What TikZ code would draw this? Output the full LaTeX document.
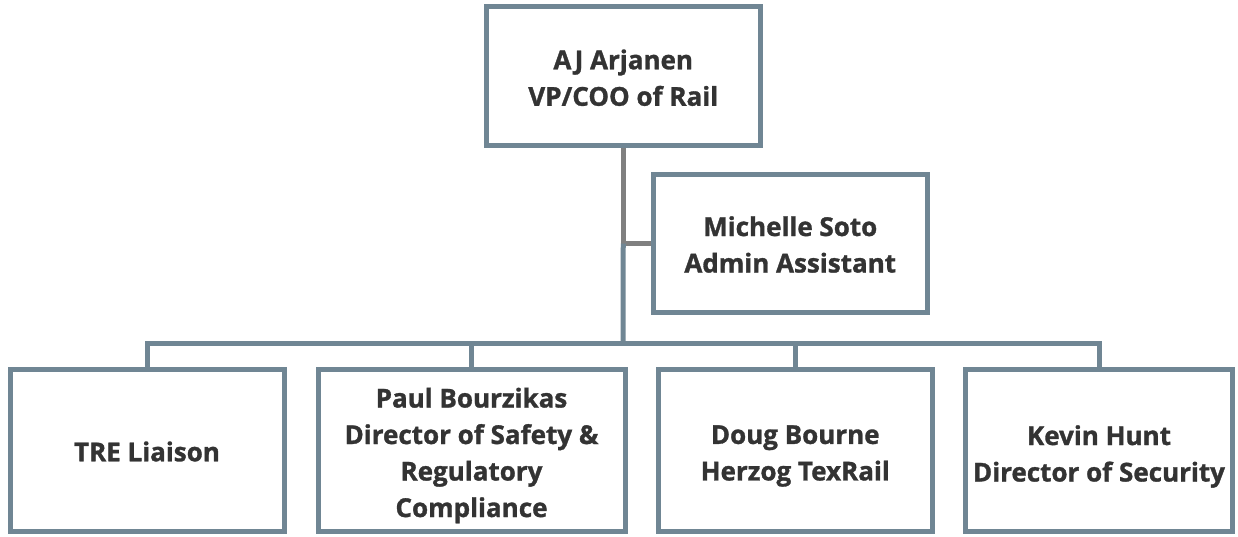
\documentclass[tikz,border=0pt]{standalone}
\usepackage{fontspec}
\setmainfont{Open Sans}[BoldFeatures={FakeBold=1.2}]
\usepackage{tikz}
\usetikzlibrary{positioning,backgrounds}
\definecolor{orgslate}{RGB}{112,134,148}
\definecolor{orggray}{RGB}{128,128,128}
\definecolor{orgtext}{RGB}{51,51,51}
\tikzstyle{person} = [draw=orgslate, line width=5pt, fill=white, inner sep=0pt]
\tikzstyle{persontext} = [text=orgtext, align=center, inner sep=0pt, font=\fontsize{26}{36.5}\selectfont\bfseries]
\tikzstyle{busline} = [line width=5pt, color=orgslate]
\tikzstyle{asstline} = [line width=4.5pt, color=orggray]

\begin{document}
\begin{tikzpicture}[x=1pt, y=-1pt]
\useasboundingbox (0,0) rectangle (1238,536);

% Top box
\node[person, minimum width=273.5pt, minimum height=138.5pt] (vp) at (623.25,75.75) {};
\node[persontext] (vp-t) at ([yshift=-2pt]vp.center) {AJ Arjanen\\VP/COO of Rail};

% Assistant
\node[person, minimum width=274.5pt, minimum height=138pt] (asst) at (790.25,243.5) {};
\node[persontext] (asst-t) at ([yshift=-1pt]asst.center) {Michelle Soto\\Admin Assistant};

% Directors
\node[person, minimum width=274pt, minimum height=162pt] (tre) at (147,450.5) {};
\node[person, minimum width=307pt, minimum height=162pt] (paul) at (471.5,450.5) {};
\node[person, minimum width=273.5pt, minimum height=162pt] (doug) at (795.25,450.5) {};
\node[person, minimum width=267pt, minimum height=162pt] (kevin) at (1099,450.5) {};
\node[persontext] (tre-t) at ([yshift=-1pt]tre.center) {TRE Liaison};
\node[persontext] (paul-t) at ([yshift=-5pt]paul.center) {Paul Bourzikas\\Director of Safety \&\\Regulatory\\Compliance};
\node[persontext] (doug-t) at ([yshift=-5.5pt]doug.center) {Doug Bourne\\Herzog TexRail};
\node[persontext] (kevin-t) at ([yshift=-6pt]kevin.center) {Kevin Hunt\\Director of Security};

% Lines
\coordinate (bus) at (623,343);
\begin{pgfonlayer}{background}
\draw[asstline] (vp.south) |- (asst.west);
\draw[busline] (vp.south |- asst.west) -- (bus);
\draw[busline] (tre.north) |- (bus) -| (kevin.north);
\foreach \d in {paul,doug}
  \draw[busline] (\d.north) -- (\d.north |- bus);
\end{pgfonlayer}
\end{tikzpicture}
\end{document}
